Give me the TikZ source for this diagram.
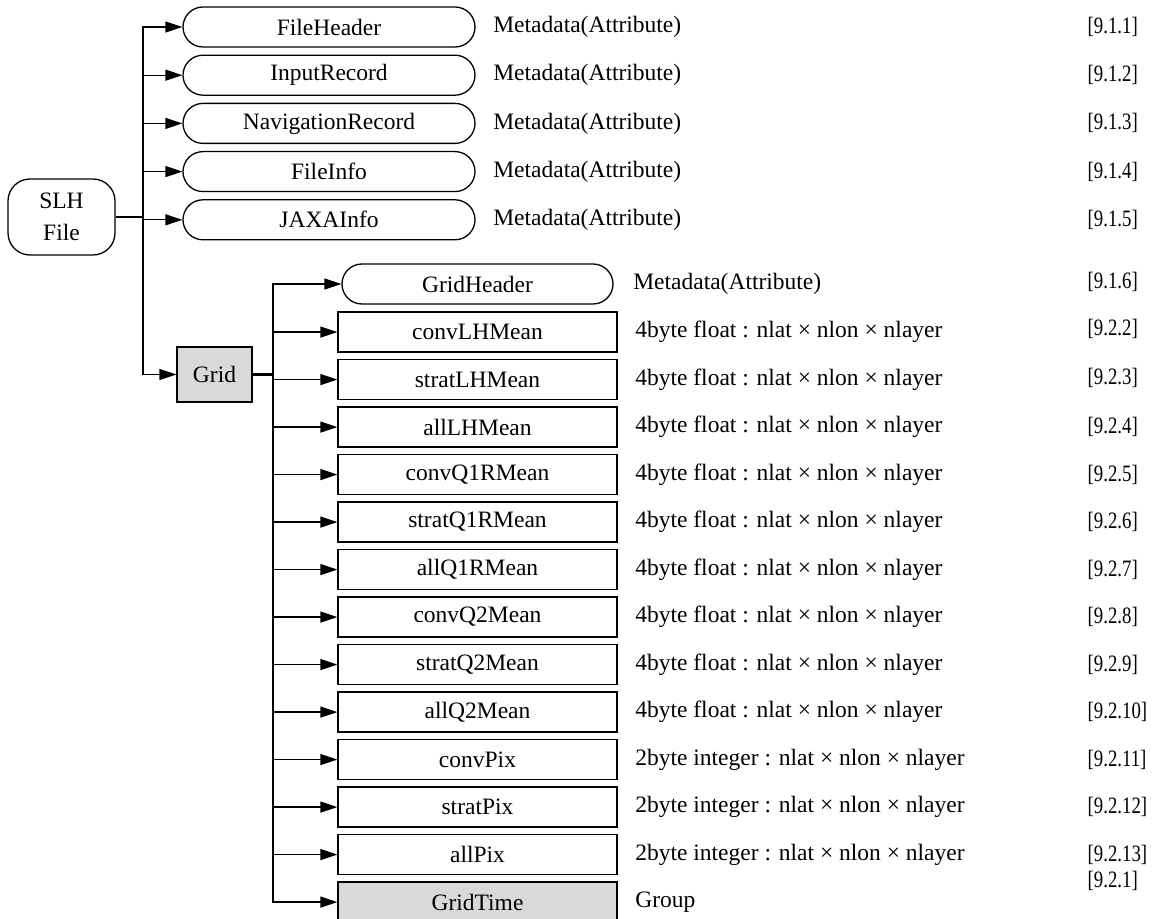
\documentclass[tikz,border=0pt]{standalone}
\usepackage{fontspec}
\setmainfont{Liberation Serif}
\newfontfamily\reffont{Liberation Serif}[FakeStretch=0.8]
\usetikzlibrary{positioning,calc,arrows.meta}
\definecolor{boxgray}{HTML}{D9D9D9}
\begin{document}
\begin{tikzpicture}[x=0.5pt, y=-0.5pt, >={Triangle[length=8.5pt,width=5.5pt]},
  line width=0.65pt, font=\fontsize{11.75}{16}\selectfont,
  rootbox/.style={draw, rounded corners=11pt, align=center, minimum width=53.5pt, minimum height=38pt, inner sep=2pt},
  pillbox/.style={draw, rounded corners=10pt, minimum width=146pt, minimum height=20pt, inner sep=2pt},
  databox/.style={draw, minimum width=139.5pt, minimum height=20pt, inner sep=2pt},
  groupbox/.style={draw, fill=boxgray, minimum width=37.5pt, minimum height=27.5pt, inner sep=2pt},
  desc/.style={anchor=west, inner sep=0pt},
  refs/.style={anchor=west, inner sep=0pt, font=\fontsize{11.75}{16}\reffont},
  trunk/.style={line width=1.2pt}]
\useasboundingbox (0,0) rectangle (1153,919);
\coordinate (bx) at (143,0);
\coordinate (gx) at (273,0);
\coordinate (refx) at (1087,0);
\node[rootbox] (slh) at (61.5,217) {SLH\\File};
\node[pillbox] (fh) at (329,27) {FileHeader};
\node[pillbox, below=3.45pt of fh] (ir) {InputRecord};
\node[pillbox, below=3.45pt of ir] (nr) {NavigationRecord};
\node[pillbox, below=3.45pt of nr] (fi) {FileInfo};
\node[pillbox, below=3.45pt of fi] (ja) {JAXAInfo};
\node[desc, right=8.5pt of fh] (d1) {Metadata(Attribute)};
\node[desc, right=8.5pt of ir] (d2) {Metadata(Attribute)};
\node[desc, right=8.5pt of nr] (d3) {Metadata(Attribute)};
\node[desc, right=8.5pt of fi] (d4) {Metadata(Attribute)};
\node[desc, right=8.5pt of ja] (d5) {Metadata(Attribute)};
\node[refs] (r1) at (fh -| refx) {[9.1.1]};
\node[refs] (r2) at (ir -| refx) {[9.1.2]};
\node[refs] (r3) at (nr -| refx) {[9.1.3]};
\node[refs] (r4) at (fi -| refx) {[9.1.4]};
\node[refs] (r5) at (ja -| refx) {[9.1.5]};
\node[groupbox] (grid) at (214.5,374.5) {Grid};
\node[pillbox, minimum width=135.5pt] (gh) at (477.5,284) {GridHeader};
\node[databox, below=3.4pt of gh] (g1) {convLHMean};
\node[databox, below=3.1pt of g1] (g2) {stratLHMean};
\node[databox, below=3.1pt of g2] (g3) {allLHMean};
\node[databox, below=3.1pt of g3] (g4) {convQ1RMean};
\node[databox, below=3.1pt of g4] (g5) {stratQ1RMean};
\node[databox, below=3.1pt of g5] (g6) {allQ1RMean};
\node[databox, below=3.1pt of g6] (g7) {convQ2Mean};
\node[databox, below=3.1pt of g7] (g8) {stratQ2Mean};
\node[databox, below=3.1pt of g8] (g9) {allQ2Mean};
\node[databox, below=3.1pt of g9] (g10) {convPix};
\node[databox, below=3.1pt of g10] (g11) {stratPix};
\node[databox, below=3.1pt of g11] (g12) {allPix};
\node[databox, fill=boxgray, below=3.1pt of g12] (gt) {GridTime};
\node[desc, right=9.5pt of gh] (d6) {Metadata(Attribute)};
\node[desc, right=8.5pt of g1] (d7) {4byte float : nlat × nlon × nlayer};
\node[desc, right=8.5pt of g2] (d8) {4byte float : nlat × nlon × nlayer};
\node[desc, right=8.5pt of g3] (d9) {4byte float : nlat × nlon × nlayer};
\node[desc, right=8.5pt of g4] (d10) {4byte float : nlat × nlon × nlayer};
\node[desc, right=8.5pt of g5] (d11) {4byte float : nlat × nlon × nlayer};
\node[desc, right=8.5pt of g6] (d12) {4byte float : nlat × nlon × nlayer};
\node[desc, right=8.5pt of g7] (d13) {4byte float : nlat × nlon × nlayer};
\node[desc, right=8.5pt of g8] (d14) {4byte float : nlat × nlon × nlayer};
\node[desc, right=8.5pt of g9] (d15) {4byte float : nlat × nlon × nlayer};
\node[desc, right=8.5pt of g10] (d16) {2byte integer : nlat × nlon × nlayer};
\node[desc, right=8.5pt of g11] (d17) {2byte integer : nlat × nlon × nlayer};
\node[desc, right=8.5pt of g12] (d18) {2byte integer : nlat × nlon × nlayer};
\node[desc, right=8.5pt of gt] (d19) {Group};
\node[refs, yshift=1pt] (r6) at (gh -| refx) {[9.1.6]};
\node[refs, yshift=1.5pt] (r7) at (g1 -| refx) {[9.2.2]};
\node[refs, yshift=1pt] (r8) at (g2 -| refx) {[9.2.3]};
\node[refs] (r9) at (g3 -| refx) {[9.2.4]};
\node[refs] (r10) at (g4 -| refx) {[9.2.5]};
\node[refs] (r11) at (g5 -| refx) {[9.2.6]};
\node[refs] (r12) at (g6 -| refx) {[9.2.7]};
\node[refs] (r13) at (g7 -| refx) {[9.2.8]};
\node[refs] (r14) at (g8 -| refx) {[9.2.9]};
\node[refs] (r15) at (g9 -| refx) {[9.2.10]};
\node[refs] (r16) at (g10 -| refx) {[9.2.11]};
\node[refs] (r17) at (g11 -| refx) {[9.2.12]};
\node[refs] (r18) at (g12 -| refx) {[9.2.13]};
\node[refs, yshift=10.5pt] (r19) at (gt -| refx) {[9.2.1]};
\coordinate (sb) at (slh.east -| bx);
\draw[trunk] (slh.east) -- (sb);
\draw[->] (sb) |- (fh.west);
\draw[->] (sb) |- (ir.west);
\draw[->] (sb) |- (nr.west);
\draw[->] (sb) |- (fi.west);
\draw[->] (sb) |- (ja.west);
\draw[->] (sb) |- (grid.west);
\coordinate (gb) at (grid.east -| gx);
\draw[trunk] (grid.east) -- (gb) -- (gb |- gt.west);
\draw[->] (gb) |- (gh.west);
\draw[->] (gb) |- (g1.west);
\draw[->] (gb) |- (g2.west);
\draw[->] (gb) |- (g3.west);
\draw[->] (gb) |- (g4.west);
\draw[->] (gb) |- (g5.west);
\draw[->] (gb) |- (g6.west);
\draw[->] (gb) |- (g7.west);
\draw[->] (gb) |- (g8.west);
\draw[->] (gb) |- (g9.west);
\draw[->] (gb) |- (g10.west);
\draw[->] (gb) |- (g11.west);
\draw[->] (gb) |- (g12.west);
\draw[->] (gb) |- (gt.west);
\end{tikzpicture}
\end{document}
